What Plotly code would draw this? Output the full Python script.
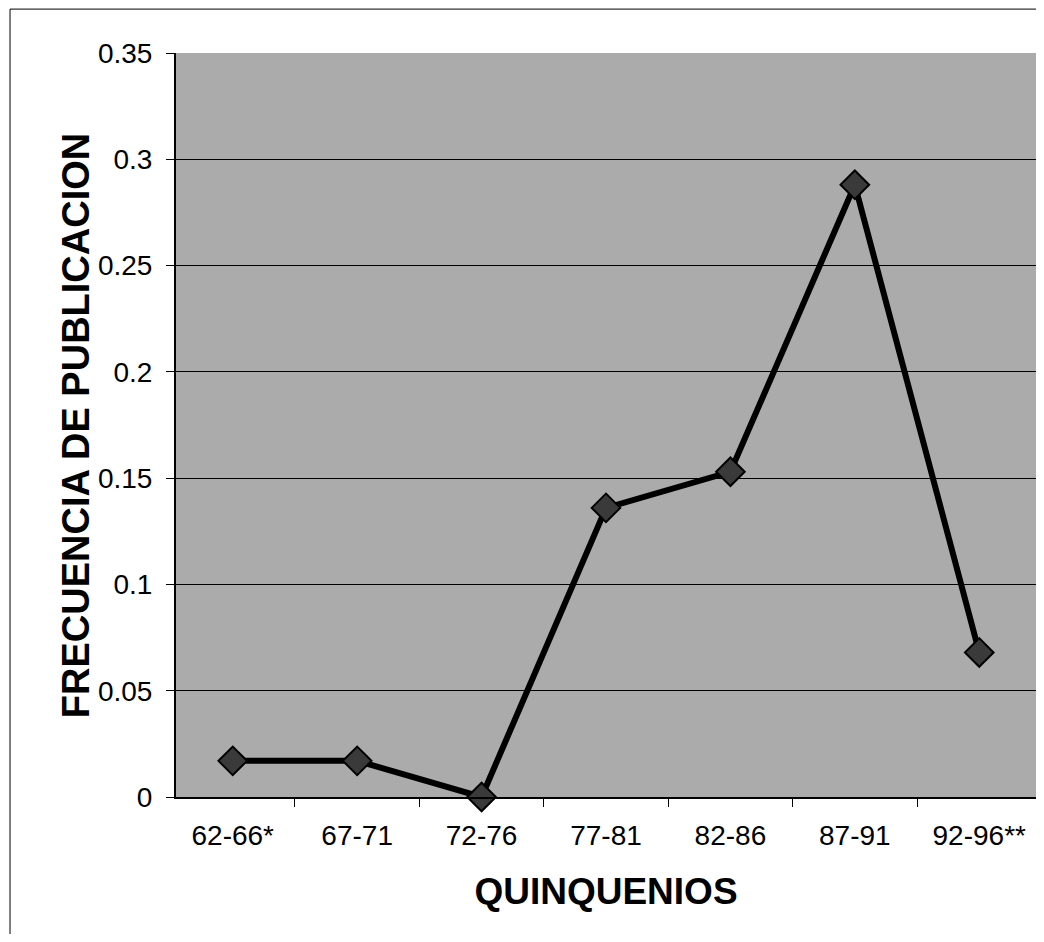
import plotly.graph_objects as go

# Quinquenios (5-year periods) and publication frequency
quinquenios = ["62-66*", "67-71", "72-76", "77-81", "82-86", "87-91", "92-96**"]
frecuencia = [0.017, 0.017, 0.0, 0.136, 0.153, 0.288, 0.068]

fig = go.Figure(go.Scatter(
    x=quinquenios,
    y=frecuencia,
    mode="lines+markers",
    line=dict(color="black", width=6),
    marker=dict(symbol="diamond", size=22, color="#3a3a3a",
                line=dict(color="black", width=2)),
    cliponaxis=False,
    showlegend=False,
))

# page body adds an 8px margin, so the figure is a bit smaller than the window
fig.update_layout(
    width=1028,
    height=926,
    paper_bgcolor="white",
    plot_bgcolor="#ababab",  # grey pattern of the scanned plot area
    margin=dict(l=168, r=0, t=45, b=137),
    font=dict(family="Liberation Sans, Arial, sans-serif", color="black"),
    shapes=[
        # outer chart frame (left and top edges visible in the scan)
        dict(type="line", xref="paper", yref="paper",
             x0=-0.193, x1=1.0, y0=1.059, y1=1.059,
             line=dict(color="black", width=1)),
        dict(type="line", xref="paper", yref="paper",
             x0=-0.193, x1=-0.193, y0=1.059, y1=-0.19,
             line=dict(color="black", width=1)),
    ],
    # y axis title placed as an annotation to sit where the original has it
    annotations=[
        dict(text="<b>FRECUENCIA DE PUBLICACION</b>", textangle=-90,
             xref="paper", yref="paper", x=-0.116, y=0.5,
             xanchor="center", yanchor="middle", showarrow=False,
             font=dict(size=38)),
    ],
)

fig.update_xaxes(
    type="category",
    tickfont=dict(size=28),
    ticks="outside",
    tickson="boundaries",
    ticklen=8,
    tickcolor="black",
    ticklabelstandoff=12,
    showline=True,
    linecolor="black",
    linewidth=2,
    showgrid=False,
    title=dict(text="<b>QUINQUENIOS</b>", font=dict(size=37), standoff=29),
)

fig.update_yaxes(
    range=[0, 0.35],
    dtick=0.05,
    tickformat="~g",
    tickfont=dict(size=28),
    ticks="outside",
    ticklen=8,
    tickcolor="black",
    ticklabelstandoff=8,
    showline=True,
    linecolor="black",
    linewidth=2,
    showgrid=True,
    gridcolor="black",
    gridwidth=1,
    zeroline=False,
)

fig.write_html("out.html")
